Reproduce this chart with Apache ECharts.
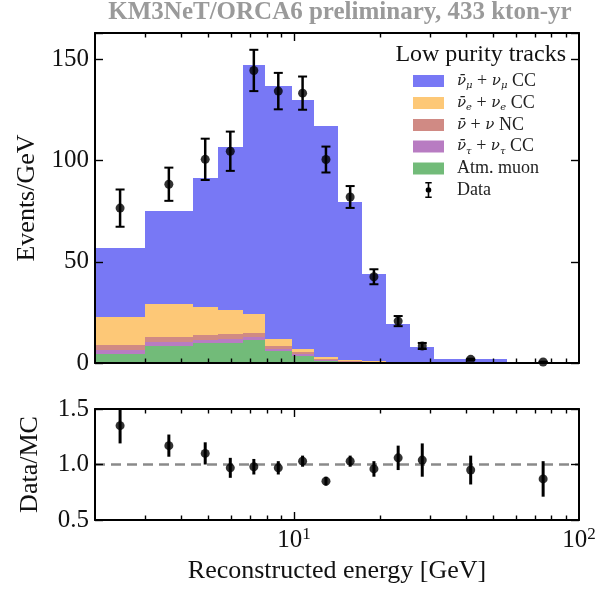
<!DOCTYPE html>
<html>
<head>
<meta charset="utf-8">
<script src="https://cdn.jsdelivr.net/npm/echarts@6/dist/echarts.min.js"></script>
<style>
  html, body { margin: 0; padding: 0; background: #fff; }
  #chart { width: 598px; height: 589px; }
</style>
</head>
<body>
<div id="chart"></div>
<script>
// Reconstructed-energy bin edges [GeV]
const binEdges = [2, 3, 4.4, 5.4, 6.6, 7.9, 9.8, 11.7, 14.3, 17.3, 21, 25.6, 31, 56, 100];

// Expected events/GeV per bin, stacked from the bottom up
const atmMuon = [4.4, 8.5, 9.7, 10.0, 11.3, 6.0, 3.5, 1.2, 0.4, 0.2, 0.1, 0.05, 0.02, 0.01];
const nuTauCC = [2.0, 2.0, 1.8, 2.0, 1.6, 1.0, 0.8, 0.4, 0.3, 0.15, 0.1, 0.05, 0.02, 0.01];
const nuNC    = [2.5, 2.5, 2.2, 2.3, 1.7, 1.4, 1.2, 0.6, 0.4, 0.25, 0.1, 0.05, 0.03, 0.01];
const nuECC   = [13.6, 16.1, 13.8, 11.8, 9.6, 3.3, 1.6, 0.9, 0.5, 0.3, 0.2, 0.1, 0.05, 0.02];
const nuMuCC  = [34.2, 46.0, 64.1, 80.6, 122.8, 125.0, 122.6, 113.8, 78.0, 43.3, 19.0, 7.75, 1.78, 0.52];

// Observed events/GeV with statistical errors
const dataValues = [76.5, 88.3, 100.6, 104.6, 144.5, 134.3, 133.3, 100.5, 82.0, 42.6, 20.7, 8.4, 1.8, 0.5];
const dataErrors = [9.2, 8.2, 10.2, 9.7, 10.2, 9.0, 8.2, 6.4, 5.4, 3.7, 2.5, 1.5, 0.3, 0.15];

// Data / MC ratio and its errors
const ratioValues = [1.35, 1.17, 1.10, 0.97, 0.98, 0.97, 1.03, 0.85, 1.03, 0.96, 1.06, 1.04, 0.95, 0.87];
const ratioErrors = [0.16, 0.10, 0.10, 0.09, 0.07, 0.06, 0.05, 0.04, 0.05, 0.07, 0.11, 0.15, 0.13, 0.16];

// Axis ticks
const yTicksTop = [0, 50, 100, 150];
const yTicksRatio = [0.5, 1.0, 1.5];
const xMajorTicks = [10];
const xMinorTicks = [3, 4, 5, 6, 7, 8, 9, 20, 30, 40, 50, 60, 70, 80, 90];
const xTickLabels = { 10: '{b|10}{s|1}', 100: '{b|10}{s|2}' };

const Y_TOP_MAX = 163;
const RATIO_MIN = 0.5, RATIO_MAX = 1.5;
const FONT = '"Liberation Serif", "DejaVu Serif", serif';
const MATH_FONT = '"DejaVu Serif", serif';

const colors = {
  numuCC: '#7878f5',
  nueCC: '#fdc877',
  nuNC: '#d08a84',
  nutauCC: '#b87cc2',
  atmMuon: '#72bb79'
};

const legendLabels = {
  numuCC: '{i|ν̄}{s|μ} + {i|ν}{s|μ} CC',
  nueCC: '{i|ν̄}{s|e} + {i|ν}{s|e} CC',
  nuNC: '{i|ν̄} + {i|ν} NC',
  nutauCC: '{i|ν̄}{s|τ} + {i|ν}{s|τ} CC',
  atmMuon: 'Atm. muon',
  Data: 'Data'
};

const centers = binEdges.slice(0, -1).map((lo, i) => Math.sqrt(lo * binEdges[i + 1]));

// Stacked histogram: one custom series per component, bins drawn as rectangles
const stackOrder = [
  ['atmMuon', atmMuon],
  ['nutauCC', nuTauCC],
  ['nuNC', nuNC],
  ['nueCC', nuECC],
  ['numuCC', nuMuCC]
];
const cumulative = new Array(centers.length).fill(0);
const histSeries = stackOrder.map(([name, values]) => {
  const items = values.map((v, i) => {
    const base = cumulative[i];
    cumulative[i] += v;
    return [binEdges[i], binEdges[i + 1], base, base + v];
  });
  const color = colors[name];
  return {
    name,
    type: 'custom',
    xAxisIndex: 0,
    yAxisIndex: 0,
    itemStyle: { color },
    encode: { x: [0, 1], y: [2, 3] },
    data: items,
    z: 2,
    renderItem(params, api) {
      const a = api.coord([api.value(0), api.value(3)]);
      const b = api.coord([api.value(1), api.value(2)]);
      const x0 = Math.round(a[0]), x1 = Math.round(b[0]);
      const y0 = Math.round(a[1]), y1 = Math.round(b[1]);
      return {
        type: 'rect',
        shape: { x: x0, y: y0, width: x1 - x0, height: y1 - y0 },
        style: { fill: color }
      };
    }
  };
});

function errorBarSeries(name, xIdx, yIdx, values, errors, capHalf, width) {
  return {
    name,
    type: 'custom',
    xAxisIndex: xIdx,
    yAxisIndex: yIdx,
    clip: true,
    z: 5,
    itemStyle: { color: '#000' },
    encode: { x: 0, y: [1, 2] },
    data: values.map((v, i) => [centers[i], v - errors[i], v + errors[i]]),
    renderItem(params, api) {
      const lo = api.coord([api.value(0), api.value(1)]);
      const hi = api.coord([api.value(0), api.value(2)]);
      const x = lo[0];
      const children = [
        { type: 'line', shape: { x1: x, y1: lo[1], x2: x, y2: hi[1] }, style: { stroke: '#000', lineWidth: width } }
      ];
      if (capHalf > 0) {
        children.push(
          { type: 'line', shape: { x1: x - capHalf, y1: lo[1], x2: x + capHalf, y2: lo[1] }, style: { stroke: '#000', lineWidth: 2 } },
          { type: 'line', shape: { x1: x - capHalf, y1: hi[1], x2: x + capHalf, y2: hi[1] }, style: { stroke: '#000', lineWidth: 2 } }
        );
      }
      return { type: 'group', children };
    }
  };
}

// Log-scale x ticks (major and minor) on bottom and top spines
function tickSeries(xIdx, yIdx, yLo, yHi) {
  return {
    type: 'custom',
    xAxisIndex: xIdx,
    yAxisIndex: yIdx,
    silent: true,
    z: 11,
    encode: { x: 0, y: 1 },
    data: xMinorTicks.map(v => [v, yLo, 0]).concat(xMajorTicks.map(v => [v, yLo, 1])),
    renderItem(params, api) {
      const v = api.value(0);
      const len = api.value(2) ? 8 : 4.5;
      const b = api.coord([v, yLo]);
      const t = api.coord([v, yHi]);
      const x = Math.round(b[0]) + 0.5;
      return {
        type: 'group',
        children: [
          { type: 'line', shape: { x1: x, y1: b[1], x2: x, y2: b[1] - len }, style: { stroke: '#000', lineWidth: 1.4 } },
          { type: 'line', shape: { x1: x, y1: t[1], x2: x, y2: t[1] + len }, style: { stroke: '#000', lineWidth: 1.4 } }
        ]
      };
    }
  };
}

const axisLineStyle = { color: '#000', width: 2 };
const xBase = {
  type: 'log',
  logBase: 10,
  min: binEdges[0],
  max: binEdges[binEdges.length - 1],
  axisTick: { show: false },
  splitLine: { show: false },
  axisLine: { show: true, onZero: false, lineStyle: axisLineStyle },
  z: 10
};
const yBase = {
  type: 'value',
  splitLine: { show: false },
  axisLine: { show: true, onZero: false, lineStyle: axisLineStyle },
  axisTick: { show: true, inside: true, length: 8, lineStyle: { color: '#000', width: 1.4 } },
  z: 10
};
const tickLabelStyle = { fontFamily: FONT, fontSize: 25, color: '#111' };
const nameStyle = { fontFamily: FONT, fontSize: 26, color: '#111' };

const dataIcon = 'path://M1,0H9V2H1Z M4,0H6V20H4Z M1,18H9V20H1Z M5,6.5A3.5,3.5 0 1,1 5,13.5A3.5,3.5 0 1,1 5,6.5Z';
const rectIcon = 'path://M0,0H31V12H0Z';

const option = {
  animation: false,
  backgroundColor: '#fff',
  title: [
    {
      text: 'KM3NeT/ORCA6 preliminary, 433 kton-yr',
      left: 340,
      top: 0,
      padding: 0,
      textAlign: 'center',
      textStyle: { fontFamily: FONT, fontSize: 25, fontWeight: 'bold', color: '#9a9a9a' }
    },
    {
      text: 'Low purity tracks',
      left: 566,
      top: 43,
      padding: 0,
      textAlign: 'right',
      textStyle: { fontFamily: FONT, fontSize: 24, fontWeight: 'normal', color: '#111' }
    }
  ],
  legend: {
    orient: 'vertical',
    left: 413,
    top: 72,
    padding: 0,
    itemWidth: 31,
    itemHeight: 16,
    itemGap: 3.5,
    selectedMode: false,
    data: [
      { name: 'numuCC', icon: rectIcon },
      { name: 'nueCC', icon: rectIcon },
      { name: 'nuNC', icon: rectIcon },
      { name: 'nutauCC', icon: rectIcon },
      { name: 'atmMuon', icon: rectIcon },
      { name: 'Data', icon: dataIcon }
    ],
    formatter: name => legendLabels[name],
    textStyle: {
      fontFamily: FONT, fontSize: 18, color: '#222', lineHeight: 18, padding: [0, 0, 0, 8],
      rich: {
        i: { fontFamily: MATH_FONT, fontSize: 15, fontStyle: 'italic', color: '#222' },
        s: { fontFamily: MATH_FONT, fontSize: 10, fontStyle: 'italic', color: '#222', padding: [9, 0, 0, 0] }
      }
    }
  },
  grid: [
    { left: 95, top: 33, width: 484, height: 330, containLabel: false, outerBoundsMode: 'none' },
    { left: 95, top: 409, width: 484, height: 111, containLabel: false, outerBoundsMode: 'none' }
  ],
  xAxis: [
    { ...xBase, gridIndex: 0, position: 'bottom', axisLabel: { show: false } },
    { ...xBase, gridIndex: 0, position: 'top', axisLabel: { show: false } },
    {
      ...xBase, gridIndex: 1, position: 'bottom',
      axisLabel: {
        margin: 6,
        showMinLabel: false,
        formatter: v => xTickLabels[Math.round(v)] || '',
        ...tickLabelStyle,
        rich: {
          b: { fontFamily: FONT, fontSize: 25, color: '#111' },
          s: { fontFamily: FONT, fontSize: 17, color: '#111', padding: [0, 0, 12, 0] }
        }
      },
      name: 'Reconstructed energy [GeV]',
      nameLocation: 'middle',
      nameGap: 38,
      nameTextStyle: nameStyle
    },
    { ...xBase, gridIndex: 1, position: 'top', axisLabel: { show: false } }
  ],
  yAxis: [
    {
      ...yBase, gridIndex: 0, position: 'left', min: 0, max: Y_TOP_MAX, interval: 50,
      axisLabel: { margin: 6, formatter: v => (yTicksTop.includes(v) ? String(v) : ''), ...tickLabelStyle },
      name: 'Events/GeV', nameLocation: 'middle', nameGap: 52, nameRotate: 90, nameTextStyle: nameStyle
    },
    { ...yBase, gridIndex: 0, position: 'right', min: 0, max: Y_TOP_MAX, interval: 50, axisLabel: { show: false } },
    {
      ...yBase, gridIndex: 1, position: 'left', min: RATIO_MIN, max: RATIO_MAX, interval: 0.5,
      axisLabel: { margin: 6, formatter: v => (yTicksRatio.some(t => Math.abs(t - v) < 1e-9) ? v.toFixed(1) : ''), ...tickLabelStyle },
      name: 'Data/MC', nameLocation: 'middle', nameGap: 52, nameRotate: 90, nameTextStyle: nameStyle
    },
    { ...yBase, gridIndex: 1, position: 'right', min: RATIO_MIN, max: RATIO_MAX, interval: 0.5, axisLabel: { show: false } }
  ],
  series: [
    ...histSeries,
    errorBarSeries('Data', 0, 0, dataValues, dataErrors, 4.5, 2.5),
    {
      name: 'Data',
      type: 'scatter',
      xAxisIndex: 0,
      yAxisIndex: 0,
      symbol: 'circle',
      symbolSize: 9,
      itemStyle: { color: '#000' },
      z: 6,
      data: centers.map((c, i) => [c, dataValues[i]])
    },
    errorBarSeries('ratioErr', 2, 2, ratioValues, ratioErrors, 0, 3),
    {
      name: 'ratio',
      type: 'scatter',
      xAxisIndex: 2,
      yAxisIndex: 2,
      symbol: 'circle',
      symbolSize: 9,
      itemStyle: { color: '#000' },
      z: 6,
      data: centers.map((c, i) => [c, ratioValues[i]]),
      markLine: {
        silent: true,
        symbol: 'none',
        label: { show: false },
        lineStyle: { color: '#8a8a8a', type: [10, 6], width: 2.5 },
        data: [{ yAxis: 1 }]
      }
    },
    tickSeries(0, 0, 0, Y_TOP_MAX),
    tickSeries(2, 2, RATIO_MIN, RATIO_MAX)
  ]
};

const chart = echarts.init(document.getElementById('chart'), null, { renderer: 'canvas' });
chart.setOption(option);
</script>
</body>
</html>
